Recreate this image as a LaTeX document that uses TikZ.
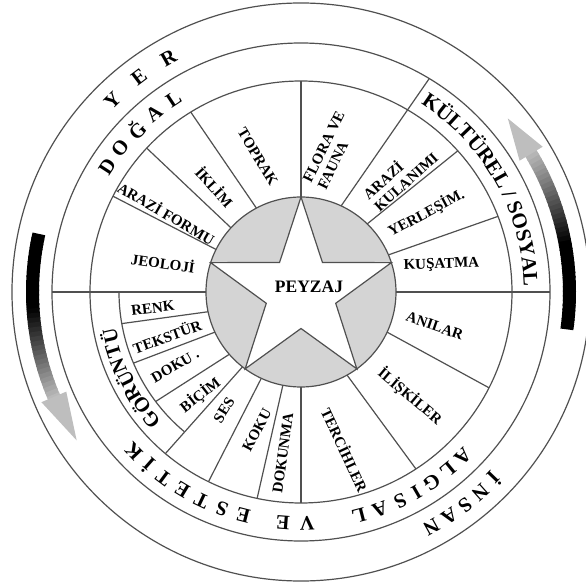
\documentclass[tikz,border=0pt]{standalone}
\usepackage{fontspec}
\setmainfont{Liberation Serif}
\usetikzlibrary{decorations.text}
\definecolor{wheelLine}{RGB}{80,80,80}
\definecolor{wheelGray}{RGB}{212,212,212}
\definecolor{arrowLight}{RGB}{190,190,190}
\newcommand{\secfont}{\bfseries\fontsize{15}{16.5}\selectfont}
\newcommand{\ringfont}{\bfseries\fontsize{20.5}{22}\selectfont}
\newcommand{\kulfont}{\bfseries\fontsize{21}{23}\selectfont}

\begin{document}
\begin{tikzpicture}[x=1pt,y=1pt,
  wline/.style={draw=wheelLine,line width=1.2pt},
  seclabel/.style={font=\secfont,inner sep=0pt,align=center},
  ringletter/.style={font=\ringfont,inner sep=0pt}]
\useasboundingbox (-301,-294) rectangle (285,292);
% centre star
\fill[wheelGray] (0,0) circle (95);
\filldraw[fill=white,wline] (90:95) -- (126:36.5) -- (162:95) -- (198:36.5) -- (234:95) -- (270:36.5) -- (306:95) -- (342:36.5) -- (18:95) -- (54:36.5) -- cycle;
\node[font=\bfseries\fontsize{17.5}{19}\selectfont] (peyzaj) at (8,5) {PEYZAJ};
% rings
\foreach \r in {95,211,249,289} \draw[wline] (0,0) circle (\r);
\draw[wline] (180:182) arc[start angle=180,end angle=230,radius=182];
% spokes
\draw[wline] (180:95) -- (180:249);
\draw[wline] (0:95) -- (0:249);
\draw[wline] (65:95) -- (59:249);
\foreach \ain/\aout in {153.4/153,137.5/137,118/121.5,90/90,45.8/42,23/21,-25/-27,-61/-57,-90/-90,259/258,245.3/244,232/230}
  \draw[wline] (\ain:95) -- (\aout:211);
\foreach \ain/\aout in {192/190,205/203,221/217}
  \draw[wline] (\ain:95) -- (\aout:182);
% sector labels
\node[seclabel,rotate=-8] (jeoloji) at (168:141) {JEOLOJİ};
\node[seclabel,rotate=-30] (arazi) at (149.5:156) {ARAZİ FORMU};
\node[seclabel,rotate=-48] (iklim) at (129.3:136) {İKLİM};
\node[seclabel,rotate=-59] (toprak) at (107.7:142) {TOPRAK};
\node[seclabel,rotate=64,align=left] (flora) at (78:145) {FLORA VE\\FAUNA};
\node[seclabel,rotate=42,align=left] (kullanim) at (49.8:153) {ARAZİ\\KULANIMI};
\node[seclabel,rotate=28] (yerlesim) at (32.3:148) {YERLEŞİM.};
\node[seclabel,rotate=2] (kusatma) at (10.9:143) {KUŞATMA};
\node[seclabel,rotate=-19] (anilar) at (-14.2:138) {ANILAR};
\node[seclabel,rotate=-40] (iliskiler) at (-43.7:151) {İLİŞKİLER};
\node[seclabel,rotate=-65] (tercihler) at (-74.4:164) {TERCİHLER};
\node[seclabel,rotate=82] (dokunma) at (263.6:162) {DOKUNMA};
\node[seclabel,rotate=62] (koku) at (252.3:145) {KOKU};
\node[seclabel,rotate=58] (ses) at (236.9:141) {SES};
\node[seclabel,rotate=38] (bicim) at (225.6:144) {BİÇİM};
\node[seclabel,rotate=30] (doku) at (210.4:146) {DOKU .};
\node[seclabel,rotate=20] (tekstur) at (198.2:141) {TEKSTÜR};
\node[seclabel,rotate=7] (renk) at (186.2:149) {RENK};
% ring texts
\foreach \ch/\ang [count=\i] in {Y/134.5,E/127,R/119.5}
  \node[ringletter,rotate=\ang-90] (yer\i) at (\ang:269) {\ch};
\foreach \ch/\ang [count=\i] in {D/147,O/141.5,Ğ/135.5,A/129.5,L/123.5}
  \node[ringletter,rotate=\ang-90] (dogal\i) at (\ang:231) {\ch};
\foreach \ch/\ang [count=\i] in {İ/-44,N/-48.2,S/-52.4,A/-56.5,N/-61}
  \node[ringletter,rotate=\ang-90] (insan\i) at (\ang:269) {\ch};
\foreach \ch/\ang [count=\i] in {A/-45.5,L/-50.5,G/-55.5,I/-60,S/-64.5,A/-70,L/-75.5,V/-88.5,E/-94.5,E/-104.5,S/-110,T/-115.5,E/-121,T/-126.5,İ/-131.5,K/-136.5}
  \node[ringletter,rotate=\ang-90] (algisal\i) at (\ang:231) {\ch};
\foreach \ch/\ang [count=\i] in {G/220.5,Ö/215.5,R/211,Ü/206.5,N/202,T/197.5,Ü/193}
  \node[ringletter,rotate=\ang-90] (goruntu\i) at (\ang:197) {\ch};
\path[decorate,decoration={text along path,text={|\kulfont|KÜLTÜREL / SOSYAL},text align=center}]
  (58:223) arc[start angle=58,end angle=1,radius=223];
% arrows
\foreach \a in {167.5,168.5,...,202.5} {
  \pgfmathsetmacro\mix{min(100,max(0,(203-\a)*5))}
  \draw[line width=13pt,draw=black!\mix!arrowLight] (\a:268.5) arc[start angle=\a,end angle=\a+1.3,radius=268.5];
}
\fill[arrowLight] (203:255) -- (213.5:269) -- (203:282) -- cycle;
\foreach \a in {-8,-7,...,30} {
  \pgfmathsetmacro\mix{min(100,max(0,(31-\a)*100/21))}
  \draw[line width=13pt,draw=black!\mix!arrowLight] (\a:268.5) arc[start angle=\a,end angle=\a+1.3,radius=268.5];
}
\fill[arrowLight] (31:255) -- (40:270) -- (31:282) -- cycle;
\end{tikzpicture}
\end{document}
